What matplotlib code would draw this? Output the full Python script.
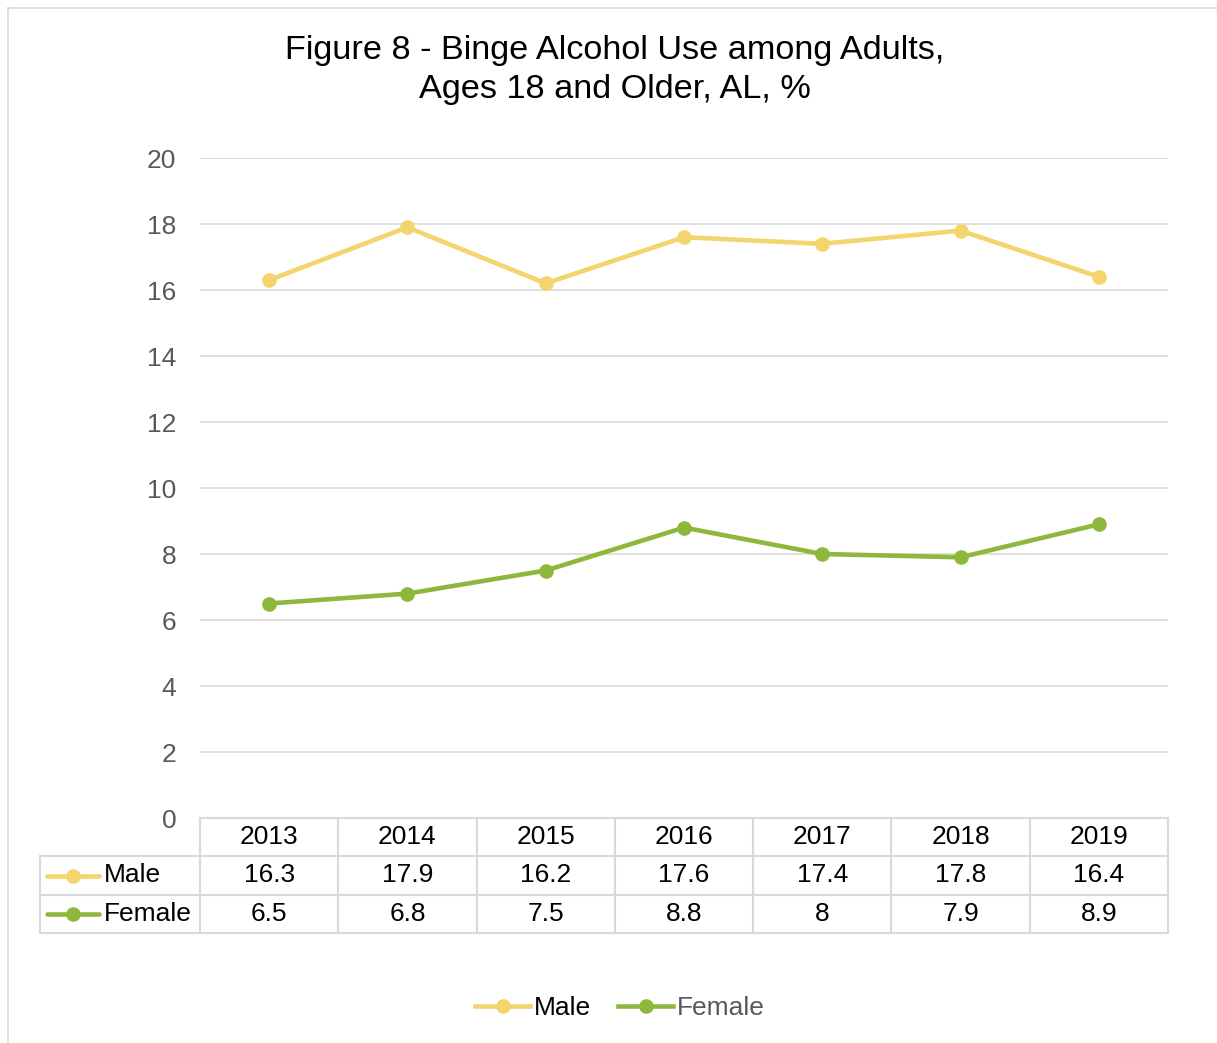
import matplotlib.pyplot as plt
from matplotlib.lines import Line2D
import numpy as np

plt.rcParams['font.family'] = ['Liberation Sans', 'DejaVu Sans']

years = ['2013', '2014', '2015', '2016', '2017', '2018', '2019']
male = [16.3, 17.9, 16.2, 17.6, 17.4, 17.8, 16.4]
female = [6.5, 6.8, 7.5, 8.8, 8, 7.9, 8.9]
series_names = ['Male', 'Female']
yticks = [0, 2, 4, 6, 8, 10, 12, 14, 16, 18, 20]

male_color = '#F4D46C'
female_color = '#8DB83B'
grid_color = '#D9D9D9'
tick_color = '#595959'
fs = 19

W, H = 1217, 1043
fig = plt.figure(figsize=(W / 100, H / 100), dpi=100)


def px_box(x0, y0, x1, y1):
    # pixel box (top-left origin) -> figure fraction rect
    return [x0 / W, 1 - y1 / H, (x1 - x0) / W, (y1 - y0) / H]


# outer chart border (top and left edges)
fig.add_artist(Line2D([8 / W, 1], [1 - 8 / H, 1 - 8 / H], color=grid_color, lw=1.2))
fig.add_artist(Line2D([8 / W, 8 / W], [0, 1 - 8 / H], color=grid_color, lw=1.2))

ax = fig.add_axes(px_box(200, 158, 1168, 818))
x = np.arange(len(years))
ax.plot(x, male, color=male_color, lw=3.3, marker='o', ms=9.5, solid_capstyle='round', zorder=3)
ax.plot(x, female, color=female_color, lw=3.3, marker='o', ms=9.5, solid_capstyle='round', zorder=3)
ax.set_xlim(-0.5, len(years) - 0.5)
ax.set_ylim(0, 20)
ax.set_yticks(yticks)
ax.set_xticks([])
ax.grid(axis='y', color=grid_color, lw=1.2)
ax.set_axisbelow(True)
for s in ax.spines.values():
    s.set_visible(False)
ax.tick_params(axis='y', length=0, labelsize=fs, labelcolor=tick_color, pad=17)

fig.text(615 / W, 1 - 70 / H, 'Figure 8 - Binge Alcohol Use among Adults,\nAges 18 and Older, AL, %',
         ha='center', va='center', fontsize=24.7, linespacing=1.36)

# data table under the plot, sharing the category positions
unit = 968 / len(years)
left_x = -0.5 - 160 / unit
tab = fig.add_axes(px_box(40, 818, 1168, 933))
tab.set_xlim(left_x, len(years) - 0.5)
tab.set_ylim(3, 0)
tab.axis('off')
edges = np.arange(len(years) + 1) - 0.5
lkw = dict(color=grid_color, lw=1.5, clip_on=False)
tab.plot([-0.5, edges[-1]], [0, 0], **lkw)
for yy in [1, 2, 3]:
    tab.plot([left_x, edges[-1]], [yy, yy], **lkw)
for xx in edges:
    tab.plot([xx, xx], [0, 3], **lkw)
tab.plot([left_x, left_x], [1, 3], **lkw)
for i, yr in enumerate(years):
    tab.text(i, 0.5, yr, ha='center', va='center', fontsize=fs)
    tab.text(i, 1.5, f'{male[i]:g}', ha='center', va='center', fontsize=fs)
    tab.text(i, 2.5, f'{female[i]:g}', ha='center', va='center', fontsize=fs)
for row, (name, col) in enumerate(zip(series_names, [male_color, female_color])):
    yy = row + 1.5
    tab.plot([left_x + 0.05, left_x + 0.43], [yy, yy], color=col, lw=3.3,
             solid_capstyle='round', clip_on=False)
    tab.plot([left_x + 0.24], [yy], 'o', color=col, ms=9.5, clip_on=False)
    tab.text(left_x + 0.46, yy, name, ha='left', va='center', fontsize=fs)

handles = [Line2D([], [], color=male_color, lw=3.3, marker='o', ms=9.5),
           Line2D([], [], color=female_color, lw=3.3, marker='o', ms=9.5)]
leg = fig.legend(handles, series_names, loc='center', bbox_to_anchor=(620 / W, 1 - 1008 / H),
                 ncol=2, frameon=False, fontsize=fs, handlelength=2.1, handletextpad=0.15,
                 columnspacing=1.0)
leg.get_texts()[1].set_color(tick_color)

fig.savefig('out.png', dpi=100)
